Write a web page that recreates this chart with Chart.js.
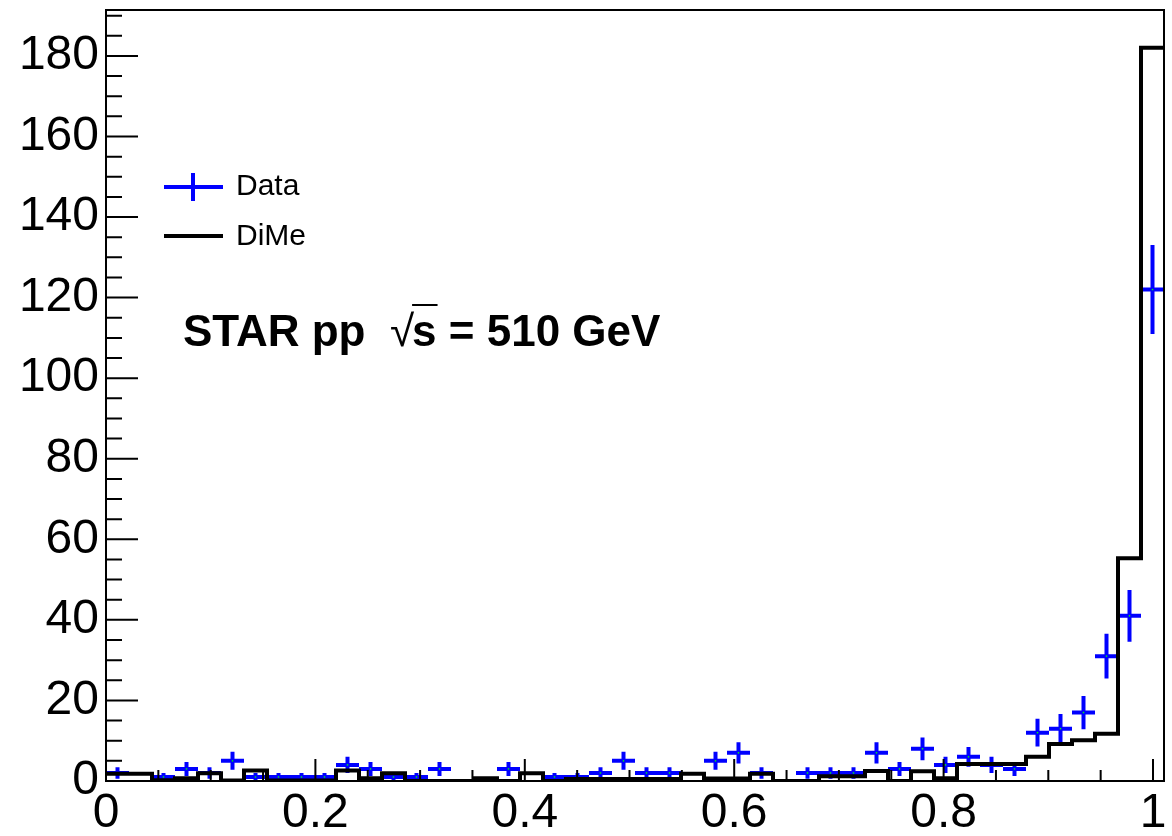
<!DOCTYPE html>
<html>
<head>
<meta charset="utf-8">
<script src="https://cdn.jsdelivr.net/npm/chart.js@4.4.1/dist/chart.umd.min.js"></script>
<style>
  html, body { margin: 0; padding: 0; background: #fff; }
  #wrap { width: 1172px; height: 836px; }
</style>
</head>
<body>
<div id="wrap"><canvas id="c" width="1172" height="836"></canvas></div>
<script>
// --- binning (46 bins from 0 to ~1.01) ---
const nBins = 46;
const xMax = 1.0105;
const yMax = 191.4;
const binW = xMax / nBins;

// data counts per bin (null = empty bin, not drawn)
const dataCounts = [
  2, null, 1, 3, 2, 5, 1, 1, 1, 1,
  4, 3, 1, 1, 3, null, null, 3, null, 1,
  1, 2, 5, 2, 2, null, 5, 7, 2, null,
  2, 2, 2, 7, 3, 8, 4, 6, 4, 3,
  12, 13, 17, 31, 41, 122
];

// DiMe histogram contents per bin
const dimeValues = [
  1.8, 1.8, 0.2, 0.7, 1.9, 0.1, 2.6, 0.1, 0.1, 0.1,
  2.6, 0.7, 1.9, 0, 0, 0, 0.7, 0, 1.9, 0,
  0.5, 0.5, 0.5, 0.5, 0.5, 1.8, 0.6, 0.6, 1.8, 0,
  0, 1.2, 1.2, 2.5, 0, 2.4, 0.7, 4.2, 4.2, 4.2,
  6.0, 9.2, 10.1, 11.7, 55.3, 182
];

const legendLabels = ['Data', 'DiMe'];
const FONT = '"Liberation Sans", Arial, Helvetica, sans-serif';

Chart.defaults.color = '#000';
Chart.defaults.font.family = FONT;

// step histogram: points at left bin edges + closing right edge
const histPoints = dimeValues.map((v, i) => ({ x: i * binW, y: v }));
histPoints.push({ x: nBins * binW, y: dimeValues[nBins - 1] });

const dataPoints = [];
dataCounts.forEach((n, i) => {
    if (n !== null) dataPoints.push({ x: (i + 0.5) * binW, y: n });
});

/* ROOT-like look: error crosses, frame, inner ticks, legend, label */
const rootPlugin = {
    id: 'rootStyle',
    beforeDatasetsDraw(chart) {
        const { ctx, chartArea: a, scales: { x, y } } = chart;
        ctx.save();
        ctx.beginPath();
        ctx.rect(a.left, a.top, a.right - a.left, a.bottom - a.top);
        ctx.clip();
        ctx.strokeStyle = '#0000ff';
        ctx.lineWidth = 4;
        dataCounts.forEach((n, i) => {
            if (n === null) return;
            const err = Math.sqrt(n);
            const xc = x.getPixelForValue((i + 0.5) * binW);
            const yc = y.getPixelForValue(n);
            ctx.beginPath();
            ctx.moveTo(x.getPixelForValue(i * binW), yc);
            ctx.lineTo(x.getPixelForValue((i + 1) * binW), yc);
            ctx.moveTo(xc, y.getPixelForValue(n - err));
            ctx.lineTo(xc, y.getPixelForValue(n + err));
            ctx.stroke();
        });
        ctx.restore();
    },
    afterDraw(chart) {
        const { ctx, chartArea: a, scales: { x, y } } = chart;
        ctx.save();
        // frame
        ctx.strokeStyle = '#000';
        ctx.lineWidth = 2;
        ctx.strokeRect(a.left, a.top, a.right - a.left, a.bottom - a.top);

        // inner ticks
        ctx.lineWidth = 2;
        ctx.beginPath();
        for (let k = 0; k * 5 <= yMax; k++) {
            const py = y.getPixelForValue(k * 5);
            const len = (k % 4 === 0) ? 32 : 16;
            ctx.moveTo(a.left, py);
            ctx.lineTo(a.left + len, py);
        }
        for (let k = 0; k * 0.05 <= xMax; k++) {
            const px = x.getPixelForValue(k * 0.05);
            const len = (k % 4 === 0) ? 22 : 11;
            ctx.moveTo(px, a.bottom);
            ctx.lineTo(px, a.bottom - len);
        }
        ctx.stroke();

        // legend
        ctx.lineWidth = 4;
        ctx.strokeStyle = '#0000ff';
        ctx.beginPath();
        ctx.moveTo(164, 187); ctx.lineTo(223, 187);
        ctx.moveTo(193, 173); ctx.lineTo(193, 201);
        ctx.stroke();
        ctx.strokeStyle = '#000';
        ctx.beginPath();
        ctx.moveTo(164, 236); ctx.lineTo(223, 236);
        ctx.stroke();
        ctx.fillStyle = '#000';
        ctx.font = '30px ' + FONT;
        ctx.textBaseline = 'middle';
        ctx.fillText(legendLabels[0], 236, 187);
        ctx.fillText(legendLabels[1], 236, 237);

        // STAR pp sqrt(s) = 510 GeV
        ctx.textBaseline = 'alphabetic';
        const base = 346;
        let cx = 183;
        ctx.font = 'bold 44px ' + FONT;
        const pre = 'STAR pp  ';
        ctx.fillText(pre, cx, base);
        cx += ctx.measureText(pre).width;
        ctx.font = '44px ' + FONT;
        ctx.fillText('\u221A', cx, base);
        cx += ctx.measureText('\u221A').width - 2;
        ctx.font = 'bold 44px ' + FONT;
        const sW = ctx.measureText('s').width;
        ctx.fillText('s', cx, base);
        ctx.lineWidth = 2;
        ctx.beginPath();
        ctx.moveTo(cx, base - 41);
        ctx.lineTo(cx + sW + 1, base - 41);
        ctx.stroke();
        cx += sW;
        ctx.fillText(' = 510 GeV', cx, base);
        ctx.restore();
    }
};

const ctx = document.getElementById('c').getContext('2d');
const chart = new Chart(ctx, {
    type: 'line',
    data: {
        datasets: [
            {
                label: 'DiMe',
                data: histPoints,
                stepped: 'before',
                borderColor: '#000',
                borderWidth: 4,
                pointRadius: 0,
                fill: false
            },
            {
                type: 'scatter',
                label: 'Data',
                data: dataPoints,
                pointStyle: 'rect',
                pointRadius: 1,
                backgroundColor: '#00ff00',
                borderWidth: 0,
                showLine: false
            }
        ]
    },
    options: {
        responsive: false,
        animation: false,
        devicePixelRatio: 1,
        layout: { padding: { top: 10, right: 8, left: 0, bottom: 0 } },
        plugins: {
            legend: { display: false },
            tooltip: { enabled: false }
        },
        scales: {
            x: {
                type: 'linear',
                min: 0,
                max: xMax,
                border: { display: false },
                grid: { display: true, drawOnChartArea: false, drawTicks: false },
                ticks: {
                    stepSize: 0.2,
                    includeBounds: false,
                    autoSkip: false,
                    maxRotation: 0,
                    padding: 4,
                    font: { size: 48 },
                    callback: v => String(Math.round(v * 10) / 10)
                },
                afterFit: s => {
                    s.height = 55;
                    s.paddingLeft = 0;
                    s.paddingRight = 0;
                }
            },
            y: {
                type: 'linear',
                min: 0,
                max: yMax,
                border: { display: false },
                grid: { display: true, drawOnChartArea: false, drawTicks: false },
                ticks: {
                    stepSize: 20,
                    includeBounds: false,
                    autoSkip: false,
                    padding: 7,
                    font: { size: 48 }
                },
                afterFit: s => {
                    s.width = 106;
                    s.paddingTop = 0;
                    s.paddingBottom = 0;
                }
            }
        }
    },
    plugins: [rootPlugin]
});
</script>
</body>
</html>
